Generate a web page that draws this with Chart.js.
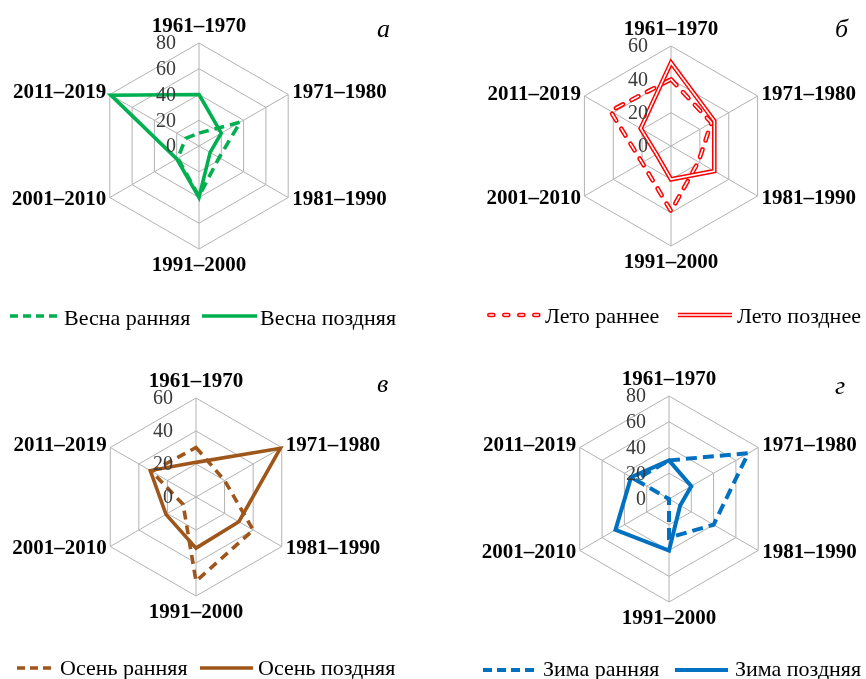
<!DOCTYPE html>
<html><head><meta charset="utf-8">
<script src="https://cdn.jsdelivr.net/npm/chart.js@4.4.1/dist/chart.umd.min.js"></script>
<style>
html,body{margin:0;padding:0;background:#fff;}
body{width:866px;height:679px;position:relative;overflow:hidden;font-family:"Liberation Serif","Times New Roman",serif;color:#000;}
canvas{position:absolute;}
.lt{position:absolute;font-style:italic;font-size:26px;line-height:26px;}
.lg{position:absolute;font-size:22px;line-height:22px;white-space:nowrap;}
#sv{position:absolute;left:0;top:0;}
</style></head><body>
<canvas id="c0" width="433" height="340" style="left:0;top:0"></canvas>
<canvas id="c1" width="433" height="340" style="left:433px;top:0"></canvas>
<canvas id="c2" width="433" height="339" style="left:0;top:340px"></canvas>
<canvas id="c3" width="433" height="339" style="left:433px;top:340px"></canvas>
<svg id="sv" width="866" height="679"></svg>
<script>
// ---- data ----
const periods = ['1961–1970','1971–1980','1981–1990','1991–2000','2001–2010','2011–2019'];
const springTicks = [0,20,40,60,80];
const summerTicks = [0,20,40,60];
const autumnTicks = [0,20,40,60];
const winterTicks = [0,20,40,60,80];
const springEarly = [10,37,18,39,19,12];
const springLate  = [40,20,10,40,20,79];
const summerEarly = [40,28,19,39,20,42];
const summerLate  = [50,30,30,20,10,21];
const autumnEarly = [30,20,40,51,9,31];
const autumnLate  = [21,59,30,31,21,32];
const winterEarly = [30,71,40,30,0,30];
const winterLate  = [30,20,10,40,48,34];
const panelLetters = ['а','б','в','г'];
const legendNames = [
  ['Весна ранняя','Весна поздняя'],
  ['Лето раннее','Лето позднее'],
  ['Осень ранняя','Осень поздняя'],
  ['Зима ранняя','Зима поздняя']
];

const GREEN='#00b050', RED='#ff0000', BROWN='#9e561b', BLUE='#0070c0', GRID='#b2b2b2';

function ln(data,color,width,dash,cap,order){
  return {data,borderColor:color,borderWidth:width,borderDash:dash||[],borderCapStyle:cap||'butt',
    borderJoinStyle:'miter',pointRadius:0,pointHoverRadius:0,pointHitRadius:0,fill:false,tension:0,order,clip:false};
}

const panels = [
  {id:'c0',W:433,H:340,cx:199,cy:146,R:103,ticks:springTicks,
   datasets:[ln(springEarly,GREEN,3.6,[10,6],'butt',2), ln(springLate,GREEN,3.6,[],'butt',1)]},
  {id:'c1',W:433,H:340,cx:238,cy:146,R:100,ticks:summerTicks,
   datasets:[ln(summerEarly,RED,4.6,[8,9.5],'round',4), ln(summerEarly,'#ffffff',1.6,[8,9.5],'round',3),
             ln(summerLate,RED,4.6,[],'butt',2), ln(summerLate,'#ffffff',1.6,[],'butt',1)]},
  {id:'c2',W:433,H:339,cx:196,cy:157,R:99,ticks:autumnTicks,
   datasets:[ln(autumnEarly,BROWN,3.6,[9,6],'butt',2), ln(autumnLate,BROWN,3.6,[],'butt',1)]},
  {id:'c3',W:433,H:339,cx:236,cy:159,R:103,ticks:winterTicks,
   datasets:[ln(winterEarly,BLUE,4,[11,6],'butt',2), ln(winterLate,BLUE,4,[],'butt',1)]}
];

const radarText = {
  id:'radarText',
  afterDatasetsDraw(chart, args, opts){
    const s = chart.scales.r, ctx = chart.ctx;
    ctx.save();
    ctx.font = '20px "Liberation Serif"';
    ctx.fillStyle = '#3a3a3a';
    ctx.textAlign = 'right';
    ctx.textBaseline = 'middle';
    opts.ticks.forEach(v=>{
      const d = s.getDistanceFromCenterForValue(v);
      ctx.fillText(String(v), s.xCenter-23, s.yCenter-d+1);
    });
    ctx.font = 'bold 21px "Liberation Serif"';
    ctx.fillStyle = '#000';
    chart.data.labels.forEach((lab,i)=>{
      const p = s.getPointPosition(i, s.drawingArea);
      let x=p.x, y=p.y, al='center';
      if(i===0){ y-=16.5; }
      else if(i===3){ y+=16.5; }
      else if(i===1){ al='left'; x+=4; y-=1.5; }
      else if(i===2){ al='left'; x+=4; y+=2.5; }
      else if(i===4){ al='right'; x-=3.5; y+=2.5; }
      else { al='right'; x-=3.5; y-=1.5; }
      ctx.textAlign = al;
      ctx.fillText(lab, x, y);
    });
    ctx.restore();
  }
};

panels.forEach(p=>{
  const max = p.ticks[p.ticks.length-1];
  new Chart(document.getElementById(p.id), {
    type:'radar',
    data:{labels:periods, datasets:p.datasets},
    options:{
      responsive:false, animation:false, devicePixelRatio:1,
      events:[],
      layout:{padding:{left:p.cx-p.R, right:p.W-p.cx-p.R, top:p.cy-p.R, bottom:p.H-p.cy-p.R}},
      plugins:{legend:{display:false}, tooltip:{enabled:false}, radarText:{ticks:p.ticks}},
      scales:{r:{min:0,max:max,
        ticks:{display:false,stepSize:p.ticks[1]-p.ticks[0]},
        grid:{color:GRID,lineWidth:1},
        angleLines:{color:GRID,lineWidth:1},
        pointLabels:{display:false}}}
    },
    plugins:[radarText]
  });
});

// ---- letters ----
const letterPos = [[377,16],[835,16],[377,371],[835,373]];
panelLetters.forEach((t,i)=>{
  const d=document.createElement('div'); d.className='lt'; d.textContent=t;
  d.style.left=letterPos[i][0]+'px'; d.style.top=letterPos[i][1]+'px';
  document.body.appendChild(d);
});

// ---- legends ----
const legendLayout = [
  {y:316, base:325.5, s1:[10,59], t1:64, s2:[202,257], t2:260},
  {y:315, base:323,   s1:[487,540], t1:545, s2:[678,732], t2:737},
  {y:668, base:675,   s1:[17,55], t1:60, s2:[200,253], t2:258},
  {y:670, base:676.5, s1:[483,537], t1:543, s2:[675,728], t2:735}
];
const legendStyles = [
  [{c:GREEN,w:3.6,d:'8 5'}, {c:GREEN,w:3.6,d:''}],
  [{c:RED,w:4.6,d:'4 11',cap:'round',dbl:true}, {c:RED,w:4.6,d:'',dbl:true}],
  [{c:BROWN,w:3.6,d:'8 5'}, {c:BROWN,w:3.6,d:''}],
  [{c:BLUE,w:4,d:'9 5'}, {c:BLUE,w:4,d:''}]
];
const sv = document.getElementById('sv');
function svLine(x1,x2,y,st,color,w){
  const l=document.createElementNS('http://www.w3.org/2000/svg','line');
  l.setAttribute('x1',x1);l.setAttribute('x2',x2);l.setAttribute('y1',y);l.setAttribute('y2',y);
  l.setAttribute('stroke',color);l.setAttribute('stroke-width',w);
  if(st.d) l.setAttribute('stroke-dasharray',st.d);
  l.setAttribute('stroke-linecap',st.cap||'butt');
  sv.appendChild(l);
}
legendLayout.forEach((L,i)=>{
  [[L.s1,L.t1],[L.s2,L.t2]].forEach((e,j)=>{
    const st=legendStyles[i][j];
    const x1=e[0][0]+(st.cap==='round'?2.3:0), x2=e[0][1];
    svLine(x1,x2,L.y,st,st.c,st.w);
    if(st.dbl) svLine(x1,x2,L.y,st,'#ffffff',1.6);
    const d=document.createElement('div'); d.className='lg'; d.textContent=legendNames[i][j];
    d.style.left=e[1]+'px'; d.style.top=(L.base-18.4)+'px';
    document.body.appendChild(d);
  });
});
</script>
</body></html>
